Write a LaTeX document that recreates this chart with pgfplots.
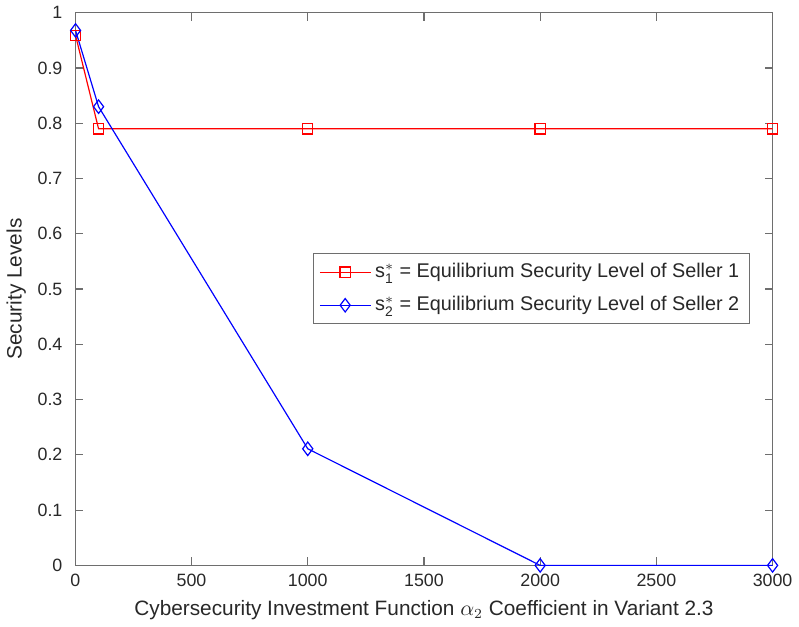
\documentclass[border=0pt]{standalone}
\usepackage{pgfplots}
\pgfplotsset{compat=1.18}
\usepackage{fontspec}
\setmainfont{Liberation Sans}
\definecolor{axgray}{RGB}{110,110,110}
\definecolor{txtgray}{RGB}{40,40,40}
\begin{document}
\begin{tikzpicture}
\begin{axis}[
  scale only axis,
  width=352pt, height=279pt,
  xmin=0, xmax=3000, ymin=0, ymax=1,
  xtick={0,500,...,3000},
  ytick={0,0.1,...,1},
  yticklabels={0,0.1,0.2,0.3,0.4,0.5,0.6,0.7,0.8,0.9,1},
  scaled x ticks=false,
  /pgf/number format/assume math mode=true,
  /pgf/number format/1000 sep={},
  tick align=inside,
  axis line style={axgray, line width=0.6pt},
  every tick/.style={axgray, line width=0.6pt},
  major tick length=4pt,
  ticklabel style={font=\fontsize{9}{10}\selectfont, text=txtgray},
  yticklabel style={xshift=-3pt},
  xticklabel style={yshift=-1pt},
  xlabel={Cybersecurity Investment Function $\alpha_2$ Coefficient in Variant 2.3},
  ylabel={Security Levels},
  label style={font=\fontsize{10.5}{12}\selectfont, text=txtgray},
  ylabel style={yshift=-1pt},
  legend style={at={(rel axis cs:0.967,0.565)}, anchor=north east,
    draw=axgray, font=\fontsize{10}{12}\selectfont, text=txtgray,
    row sep=4pt, inner sep=3pt},
  legend image code/.code={\draw[mark repeat=2,mark phase=2,#1] plot coordinates {(0cm,0cm) (0.45cm,0cm) (0.9cm,0cm)};},
  legend cell align=left,
]
\addplot[red, line width=0.6pt, mark=square, mark size=2.6pt, mark options={solid}]
  coordinates {(1,0.959) (100,0.790) (1000,0.790) (2000,0.790) (3000,0.790)};
\addlegendentry{s$^{*}_{\mathrm{1}}$ = Equilibrium Security Level of Seller 1}
\addplot[blue, line width=0.6pt, mark=diamond, mark size=3.4pt, mark options={solid}]
  coordinates {(1,0.968) (100,0.830) (1000,0.211) (2000,0) (3000,0)};
\addlegendentry{s$^{*}_{\mathrm{2}}$ = Equilibrium Security Level of Seller 2}
\end{axis}
\end{tikzpicture}
\end{document}
